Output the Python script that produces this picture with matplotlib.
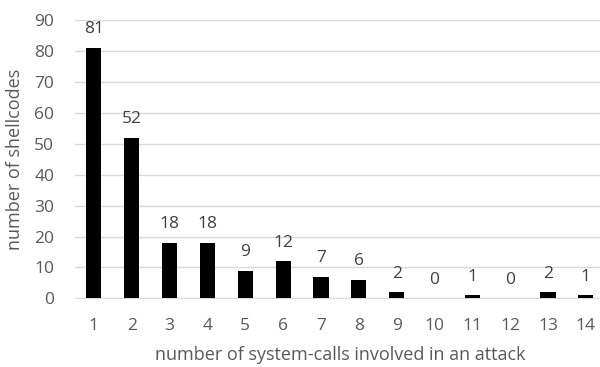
import matplotlib.pyplot as plt

calls = list(range(1, 15))
shellcodes = [81, 52, 18, 18, 9, 12, 7, 6, 2, 0, 1, 0, 2, 1]
yticks = [0, 10, 20, 30, 40, 50, 60, 70, 80, 90]

plt.rcParams['font.family'] = ['Open Sans', 'DejaVu Sans']

fig = plt.figure(figsize=(6, 3.67), dpi=100)
ax = fig.add_axes([0.125, 0.187, 0.883, 0.758])

bars = ax.bar(calls, shellcodes, width=0.4, color='black', zorder=3)
for x, v in zip(calls, shellcodes):
    ax.annotate(str(v), (x, v), xytext=(0, 10.5), textcoords='offset points',
                ha='center', va='baseline', fontsize=12.5, color='#404040')

ax.set_xlim(0.5, 14.5)
ax.set_ylim(0, 90)
ax.set_yticks(yticks)
ax.set_xticks(calls)
ax.yaxis.grid(True, color='#d9d9d9', linewidth=1, zorder=0)
for s in ['top', 'right', 'left']:
    ax.spines[s].set_visible(False)
ax.spines['bottom'].set_color('#d9d9d9')
ax.tick_params(length=0, labelsize=12.5, colors='#595959')
ax.tick_params(axis='x', pad=14)
ax.tick_params(axis='y', pad=15)
ax.set_xlabel('number of system-calls involved in an attack', fontsize=13, color='#595959', labelpad=9)
ax.set_ylabel('number of shellcodes', fontsize=13, color='#595959', labelpad=7)

fig.savefig('out.png')
